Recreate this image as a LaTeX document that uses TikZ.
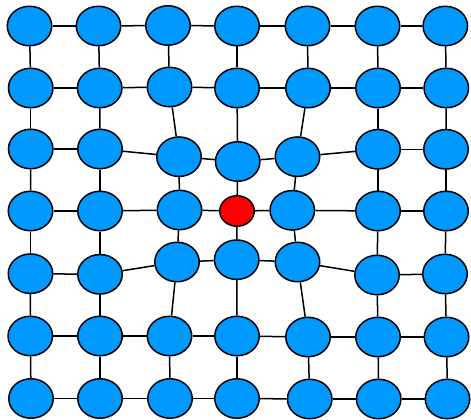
\documentclass[tikz,border=0pt]{standalone}
\usetikzlibrary{shapes.geometric}
\definecolor{nodeblue}{RGB}{0,153,255}
\tikzset{
  gnode/.style={ellipse,draw=black,fill=nodeblue,line width=1.5pt,minimum width=44.5pt,minimum height=39.5pt,inner sep=0pt},
  rnode/.style={ellipse,draw=black,fill=red,line width=1.5pt,minimum width=34.5pt,minimum height=30.5pt,inner sep=0pt},
  gedge/.style={draw=black,line width=1.5pt}
}
\begin{document}
\begin{tikzpicture}[x=1pt,y=-1pt]
\useasboundingbox (0,0) rectangle (471,420);
% row 0
\node[gnode] (n-0-0) at (29.5,26) {};
\node[gnode] (n-1-0) at (98.5,26) {};
\node[gnode] (n-2-0) at (168,25.5) {};
\node[gnode] (n-3-0) at (237,26) {};
\node[gnode] (n-4-0) at (307.5,26) {};
\node[gnode] (n-5-0) at (377.5,26) {};
\node[gnode] (n-6-0) at (445.3,26) {};
% row 1
\node[gnode] (n-0-1) at (30.7,88) {};
\node[gnode] (n-1-1) at (99.7,88) {};
\node[gnode] (n-2-1) at (169.5,87) {};
\node[gnode] (n-3-1) at (237,88) {};
\node[gnode] (n-4-1) at (308,88) {};
\node[gnode] (n-5-1) at (378,88) {};
\node[gnode] (n-6-1) at (446.3,88) {};
% row 2
\node[gnode] (n-0-2) at (30.7,149) {};
\node[gnode] (n-1-2) at (100,149) {};
\node[gnode] (n-2-2) at (179,156.7) {};
\node[gnode] (n-3-2) at (237.7,161.5) {};
\node[gnode] (n-4-2) at (297.5,156.7) {};
\node[gnode] (n-5-2) at (378,149.3) {};
\node[gnode] (n-6-2) at (446,149.3) {};
% row 3
\node[gnode] (n-0-3) at (30.5,211) {};
\node[gnode] (n-1-3) at (100,211) {};
\node[gnode] (n-2-3) at (179.5,210) {};
\node[rnode] (n-3-3) at (237,211) {};
\node[gnode] (n-4-3) at (292.3,210.3) {};
\node[gnode] (n-5-3) at (378,211) {};
\node[gnode] (n-6-3) at (446,211) {};
% row 4
\node[gnode] (n-0-4) at (30.5,273.7) {};
\node[gnode] (n-1-4) at (100,274.3) {};
\node[gnode] (n-2-4) at (177,262) {};
\node[gnode] (n-3-4) at (236.7,259.7) {};
\node[gnode] (n-4-4) at (297.5,262) {};
\node[gnode] (n-5-4) at (377,275) {};
\node[gnode] (n-6-4) at (445,274) {};
% row 5
\node[gnode] (n-0-5) at (30.3,336) {};
\node[gnode] (n-1-5) at (100,336) {};
\node[gnode] (n-2-5) at (169.5,336) {};
\node[gnode] (n-3-5) at (237,336) {};
\node[gnode] (n-4-5) at (308,337) {};
\node[gnode] (n-5-5) at (378,337) {};
\node[gnode] (n-6-5) at (446.5,337) {};
% row 6
\node[gnode] (n-0-6) at (31,398.5) {};
\node[gnode] (n-1-6) at (100,398.5) {};
\node[gnode] (n-2-6) at (170,398.5) {};
\node[gnode] (n-3-6) at (237,398.5) {};
\node[gnode] (n-4-6) at (309.7,399) {};
\node[gnode] (n-5-6) at (378.7,399) {};
\node[gnode] (n-6-6) at (447.5,399) {};
% edges
\foreach \r in {0,...,6}{
  \foreach \c/\d in {0/1,1/2,2/3,3/4,4/5,5/6}{
    \draw[gedge] (n-\c-\r) -- (n-\d-\r);
    \draw[gedge] (n-\r-\c) -- (n-\r-\d);
  }
}
\end{tikzpicture}
\end{document}
